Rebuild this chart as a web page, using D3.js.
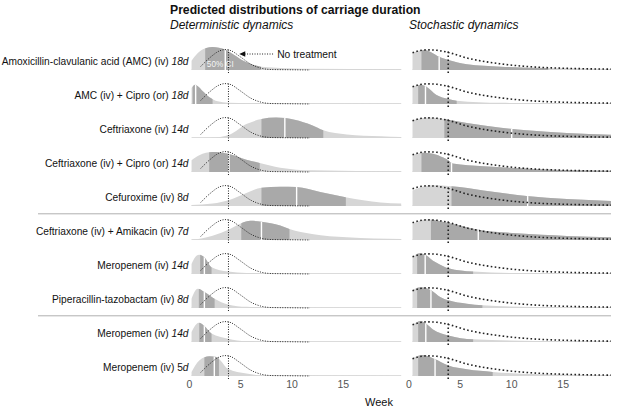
<!DOCTYPE html>
<html>
<head>
<meta charset="utf-8">
<script src="https://cdn.jsdelivr.net/npm/d3@7"></script>
<style>
  body { margin: 0; background: #fff; }
  text { font-family: "Liberation Sans", Arial, sans-serif; }
</style>
</head>
<body>
<svg id="chart" width="617" height="411"></svg>
<script>
// --- data (weeks, relative density) ---
const treatments = [
    "Amoxicillin-clavulanic acid (AMC) (iv)",
    "AMC (iv) + Cipro (or)",
    "Ceftriaxone (iv)",
    "Ceftriaxone (iv) + Cipro (or)",
    "Cefuroxime (iv)",
    "Ceftriaxone (iv) + Amikacin (iv)",
    "Meropenem (iv)",
    "Piperacillin-tazobactam (iv)",
    "Meropemen (iv)",
    "Meropenem (iv)"
];
const durations = ["18d", "18d", "14d", "14d", "8d", "7d", "14d", "8d", "14d", "5d"];
const uprightNumber = new Set([4, 9]);   // rows where only the "d" is italic
const groupBreaks = [4, 7];              // a rule is drawn below these rows

const weekTicks = [0, 5, 10, 15];

// no treatment reference distributions
const noTreatDet = [[1.15, .15], [2, .5], [3, .8], [3.5, .85], [4, .82], [5, .55], [6, .25], [7, .08], [8, .02], [10, .01], [11.8, 0]];
const noTreatDetMedian = 3.85;
const noTreatSto = [[0.41, .72], [1.0, .8], [1.8, .84], [2.8, .82], [3.9, .73], [5.7, .5], [8.9, .26], [12.1, .13], [15.4, .07], [19.7, .035]];
const noTreatStoMedian = 3.88;

// deterministic dynamics
const detDensity = [
    [[0.25, .39], [0.86, .71], [1.68, .92], [2.3, .96], [3.54, .85], [4.45, .61], [5.4, .36], [6.4, .2], [7.7, .11], [11, .05], [20.7, .03]],
    [[0.25, .67], [0.6, .8], [0.86, .74], [1.35, .53], [2, .28], [2.8, .11], [3.8, .05], [6, .03], [20.7, .01]],
    [[0.25, 0], [2.1, .01], [4, .15], [5.6, .58], [7.07, .79], [8.5, .85], [10.3, .76], [12, .53], [13.1, .32], [15.4, .15], [18.7, .07], [20.7, .04]],
    [[0.25, .49], [1, .7], [2.3, .83], [3.8, .76], [5.6, .51], [6.9, .38], [8.9, .18], [12, .07], [20.7, .03]],
    [[0.25, .04], [2.3, .1], [4, .26], [5.6, .54], [7.07, .76], [8.9, .8], [10.5, .79], [12.8, .58], [15.4, .35], [17, .24], [18.7, .15], [20.7, .1]],
    [[0.25, .01], [1.2, .06], [2.3, .18], [4, .46], [5.1, .7], [6, .8], [7.07, .76], [8.9, .6], [9.8, .46], [12, .25], [15.4, .11], [20.7, .04]],
    [[0.25, .42], [0.6, .7], [1.0, .8], [1.5, .7], [2.2, .28], [3.8, .1], [5.6, .04], [12, .01], [20.7, .01]],
    [[0.25, .39], [0.85, .8], [1.5, .67], [2.5, .39], [3.8, .15], [5.6, .05], [8.9, .02], [20.7, .01]],
    [[0.25, .42], [0.96, .8], [1.5, .67], [2.2, .35], [3.8, .14], [5.6, .04], [12, .01], [20.7, .01]],
    [[0.25, .17], [1, .65], [2, .82], [2.7, .79], [3, .68], [3.8, .3], [5.6, .1], [7.2, .03], [20.7, .005]]
];
// [lower 50% bound, median, upper 50% bound]
const detQuartiles = [
    [1.58, 3.54, 7.0], [0.35, 0.65, 2.3], [7.07, 9.35, 13.1], [1.97, 3.9, 6.9], [7.07, 10.5, 15.3],
    [5.1, 7.07, 9.8], [1.09, 1.5, 2.2], [0.96, 1.5, 2.5], [1.0, 1.5, 2.2], [1.5, 2.47, 2.92]
];

// stochastic dynamics
const stoDensity = [
    [[0.41, .7], [1.0, .8], [1.6, .83], [2.3, .72], [3, .55], [3.9, .42], [5.7, .24], [9, .14], [13.6, .08], [19.7, .04]],
    [[0.41, .71], [1.2, .8], [1.8, .71], [2.7, .39], [3.9, .21], [4.7, .14], [9, .05], [19.7, .01]],
    [[0.41, .74], [2.1, .85], [3.5, .79], [5.7, .62], [9, .43], [11.5, .32], [15.4, .21], [19.7, .14]],
    [[0.41, .7], [1.4, .8], [2.4, .76], [3.4, .6], [3.9, .49], [4.3, .35], [7.3, .24], [12.2, .13], [19.7, .05]],
    [[0.41, .65], [1.3, .79], [2.4, .86], [4.2, .82], [7.3, .65], [11.5, .42], [15.4, .29], [19.7, .21]],
    [[0.41, .67], [1.8, .85], [4, .7], [6.8, .43], [10.5, .28], [15.4, .17], [19.7, .11]],
    [[0.41, .7], [1.1, .86], [1.8, .76], [2.4, .55], [3.1, .39], [3.9, .24], [6.3, .1], [10.5, .04], [19.7, .01]],
    [[0.41, .75], [1.2, .86], [2.2, .74], [3.1, .46], [3.9, .32], [5.7, .18], [7.2, .11], [12.2, .04], [19.7, .01]],
    [[0.41, .72], [1.2, .88], [1.8, .74], [2.4, .52], [3.9, .27], [6.3, .11], [12.2, .04], [19.7, .01]],
    [[0.41, .75], [1.4, .88], [2.5, .72], [3.9, .44], [5.7, .28], [8.2, .17], [12.2, .08], [19.7, .03]]
];
const stoQuartiles = [
    [1.28, 3.0, 13.6], [0.96, 1.67, 4.7], [3.5, 10.05, 21], [1.28, 4.2, 21], [4.2, 11.6, 21],
    [2.2, 6.8, 21], [0.86, 1.64, 6.3], [0.86, 2.2, 7.2], [0.96, 1.7, 6.3], [0.96, 2.6, 8.2]
];

// --- layout ---
const lightGrey = "#d6d6d6";
const darkGrey = "#a9a9a9";
const rowHeight = 24;

const svg = d3.select("#chart");
const xDet = d3.scaleLinear().domain([0, 21]).range([189, 404.25]);
const xSto = d3.scaleLinear().domain([0, 20]).range([408.3, 614.1]);
const rowY = d3.scalePoint().domain(d3.range(treatments.length)).range([70, 376]);
const h = d3.scaleLinear().domain([0, 1]).range([0, rowHeight]);

// titles
svg.append("text").attr("x", 170).attr("y", 13.5)
    .attr("font-size", 12.2).attr("font-weight", "bold").attr("fill", "#111")
    .text("Predicted distributions of carriage duration");
svg.append("text").attr("x", 170).attr("y", 28.5)
    .attr("font-size", 12).attr("font-style", "italic").attr("fill", "#111")
    .text("Deterministic dynamics");
svg.append("text").attr("x", 409).attr("y", 28.5)
    .attr("font-size", 12).attr("font-style", "italic").attr("fill", "#111")
    .text("Stochastic dynamics");

// row labels
const labels = svg.append("g").attr("class", "labels").selectAll("text")
    .data(treatments).join("text")
    .attr("x", 188.5)
    .attr("y", (d, i) => rowY(i) - 5)
    .attr("text-anchor", "end")
    .attr("font-size", 10.2)
    .attr("fill", "#111");
labels.append("tspan").text(d => d + " ");
labels.each(function(d, i) {
    const dur = durations[i];
    const el = d3.select(this);
    if (uprightNumber.has(i)) {
        el.append("tspan").text(dur.slice(0, -1));
        el.append("tspan").attr("font-style", "italic").text(dur.slice(-1));
    } else {
        el.append("tspan").attr("font-style", "italic").text(dur);
    }
});

// group rules
svg.append("g").selectAll("line")
    .data(groupBreaks).join("line")
    .attr("x1", 38).attr("x2", 611)
    .attr("y1", i => rowY(i) + 7.8).attr("y2", i => rowY(i) + 7.8)
    .attr("stroke", "#b0b0b0").attr("stroke-width", 1);

function drawPanel(id, x, density, quartiles, ref, refMedian, dash, dashWidth) {
    const panel = svg.append("g").attr("class", id);
    const defs = svg.append("defs");
    const refPeak = d3.max(ref, d => d[1]);

    density.forEach((dens, i) => {
        const base = rowY(i);
        const area = d3.area()
            .x(d => x(d[0]))
            .y0(base)
            .y1(d => base - h(d[1]))
            .curve(d3.curveMonotoneX);
        const clipId = `${id}-clip-${i}`;
        defs.append("clipPath").attr("id", clipId)
            .append("path").attr("d", area(dens));

        const row = panel.append("g");
        const [q1, med, q3] = quartiles[i];
        const x0 = x(dens[0][0]);
        const x1 = x(dens[dens.length - 1][0]);

        row.append("line")
            .attr("x1", x0).attr("x2", x1)
            .attr("y1", base - 0.5).attr("y2", base - 0.5)
            .attr("stroke", "#dcdcdc").attr("stroke-width", 1);
        row.append("path").attr("d", area(dens)).attr("fill", lightGrey);
        row.append("rect")
            .attr("x", x(q1)).attr("width", Math.max(0, Math.min(x(q3), x1) - x(q1)))
            .attr("y", base - rowHeight - 2).attr("height", rowHeight + 2)
            .attr("fill", darkGrey)
            .attr("clip-path", `url(#${clipId})`);
        row.append("rect")
            .attr("x", x(med) - 0.7).attr("width", 1.4)
            .attr("y", base - rowHeight - 2).attr("height", rowHeight + 2)
            .attr("fill", "#fff")
            .attr("clip-path", `url(#${clipId})`);

        // no treatment reference
        const refLine = d3.line()
            .x(d => x(d[0]))
            .y(d => base - h(d[1]))
            .curve(d3.curveMonotoneX);
        row.append("path").attr("d", refLine(ref))
            .attr("fill", "none").attr("stroke", "#222")
            .attr("stroke-width", dashWidth).attr("stroke-dasharray", dash);
        row.append("line")
            .attr("x1", x(refMedian)).attr("x2", x(refMedian))
            .attr("y1", base + 3).attr("y2", base - h(refPeak))
            .attr("stroke", "#222")
            .attr("stroke-width", dashWidth).attr("stroke-dasharray", dash);
    });

    const axis = svg.append("g")
        .attr("transform", "translate(0,379)")
        .call(d3.axisBottom(x).tickValues(weekTicks).tickSize(0).tickPadding(2));
    axis.select(".domain").remove();
    axis.selectAll("text")
        .attr("font-size", 10.5)
        .attr("font-family", "Liberation Sans, Arial, sans-serif")
        .attr("fill", "#555");
}

drawPanel("det", xDet, detDensity, detQuartiles, noTreatDet, noTreatDetMedian, "1,1.5", 1);
drawPanel("sto", xSto, stoDensity, stoQuartiles, noTreatSto, noTreatStoMedian, "1.6,2.4", 1.6);

// annotations on the first row
const firstBase = rowY(0);
const arrowY = firstBase - 16;
svg.append("line")
    .attr("x1", xDet(8.2)).attr("x2", xDet(5.3))
    .attr("y1", arrowY).attr("y2", arrowY)
    .attr("stroke", "#222").attr("stroke-width", 1).attr("stroke-dasharray", "1,1.5");
svg.append("path")
    .attr("d", d3.line()([[xDet(5.0) - 1, arrowY], [xDet(5.0) + 5, arrowY - 2.8], [xDet(5.0) + 5, arrowY + 2.8]]) + "Z")
    .attr("fill", "#111");
svg.append("text")
    .attr("x", xDet(8.6)).attr("y", arrowY + 3.5)
    .attr("font-size", 10.3).attr("fill", "#111")
    .text("No treatment");
svg.append("text")
    .attr("x", xDet(3.05)).attr("y", firstBase - 3)
    .attr("text-anchor", "middle")
    .attr("font-size", 8.2).attr("fill", "#fff").attr("fill-opacity", 0.9)
    .text("50% CI");

// axis title
svg.append("text")
    .attr("x", 379).attr("y", 406)
    .attr("text-anchor", "middle")
    .attr("font-size", 11).attr("fill", "#111")
    .text("Week");
</script>
</body>
</html>
